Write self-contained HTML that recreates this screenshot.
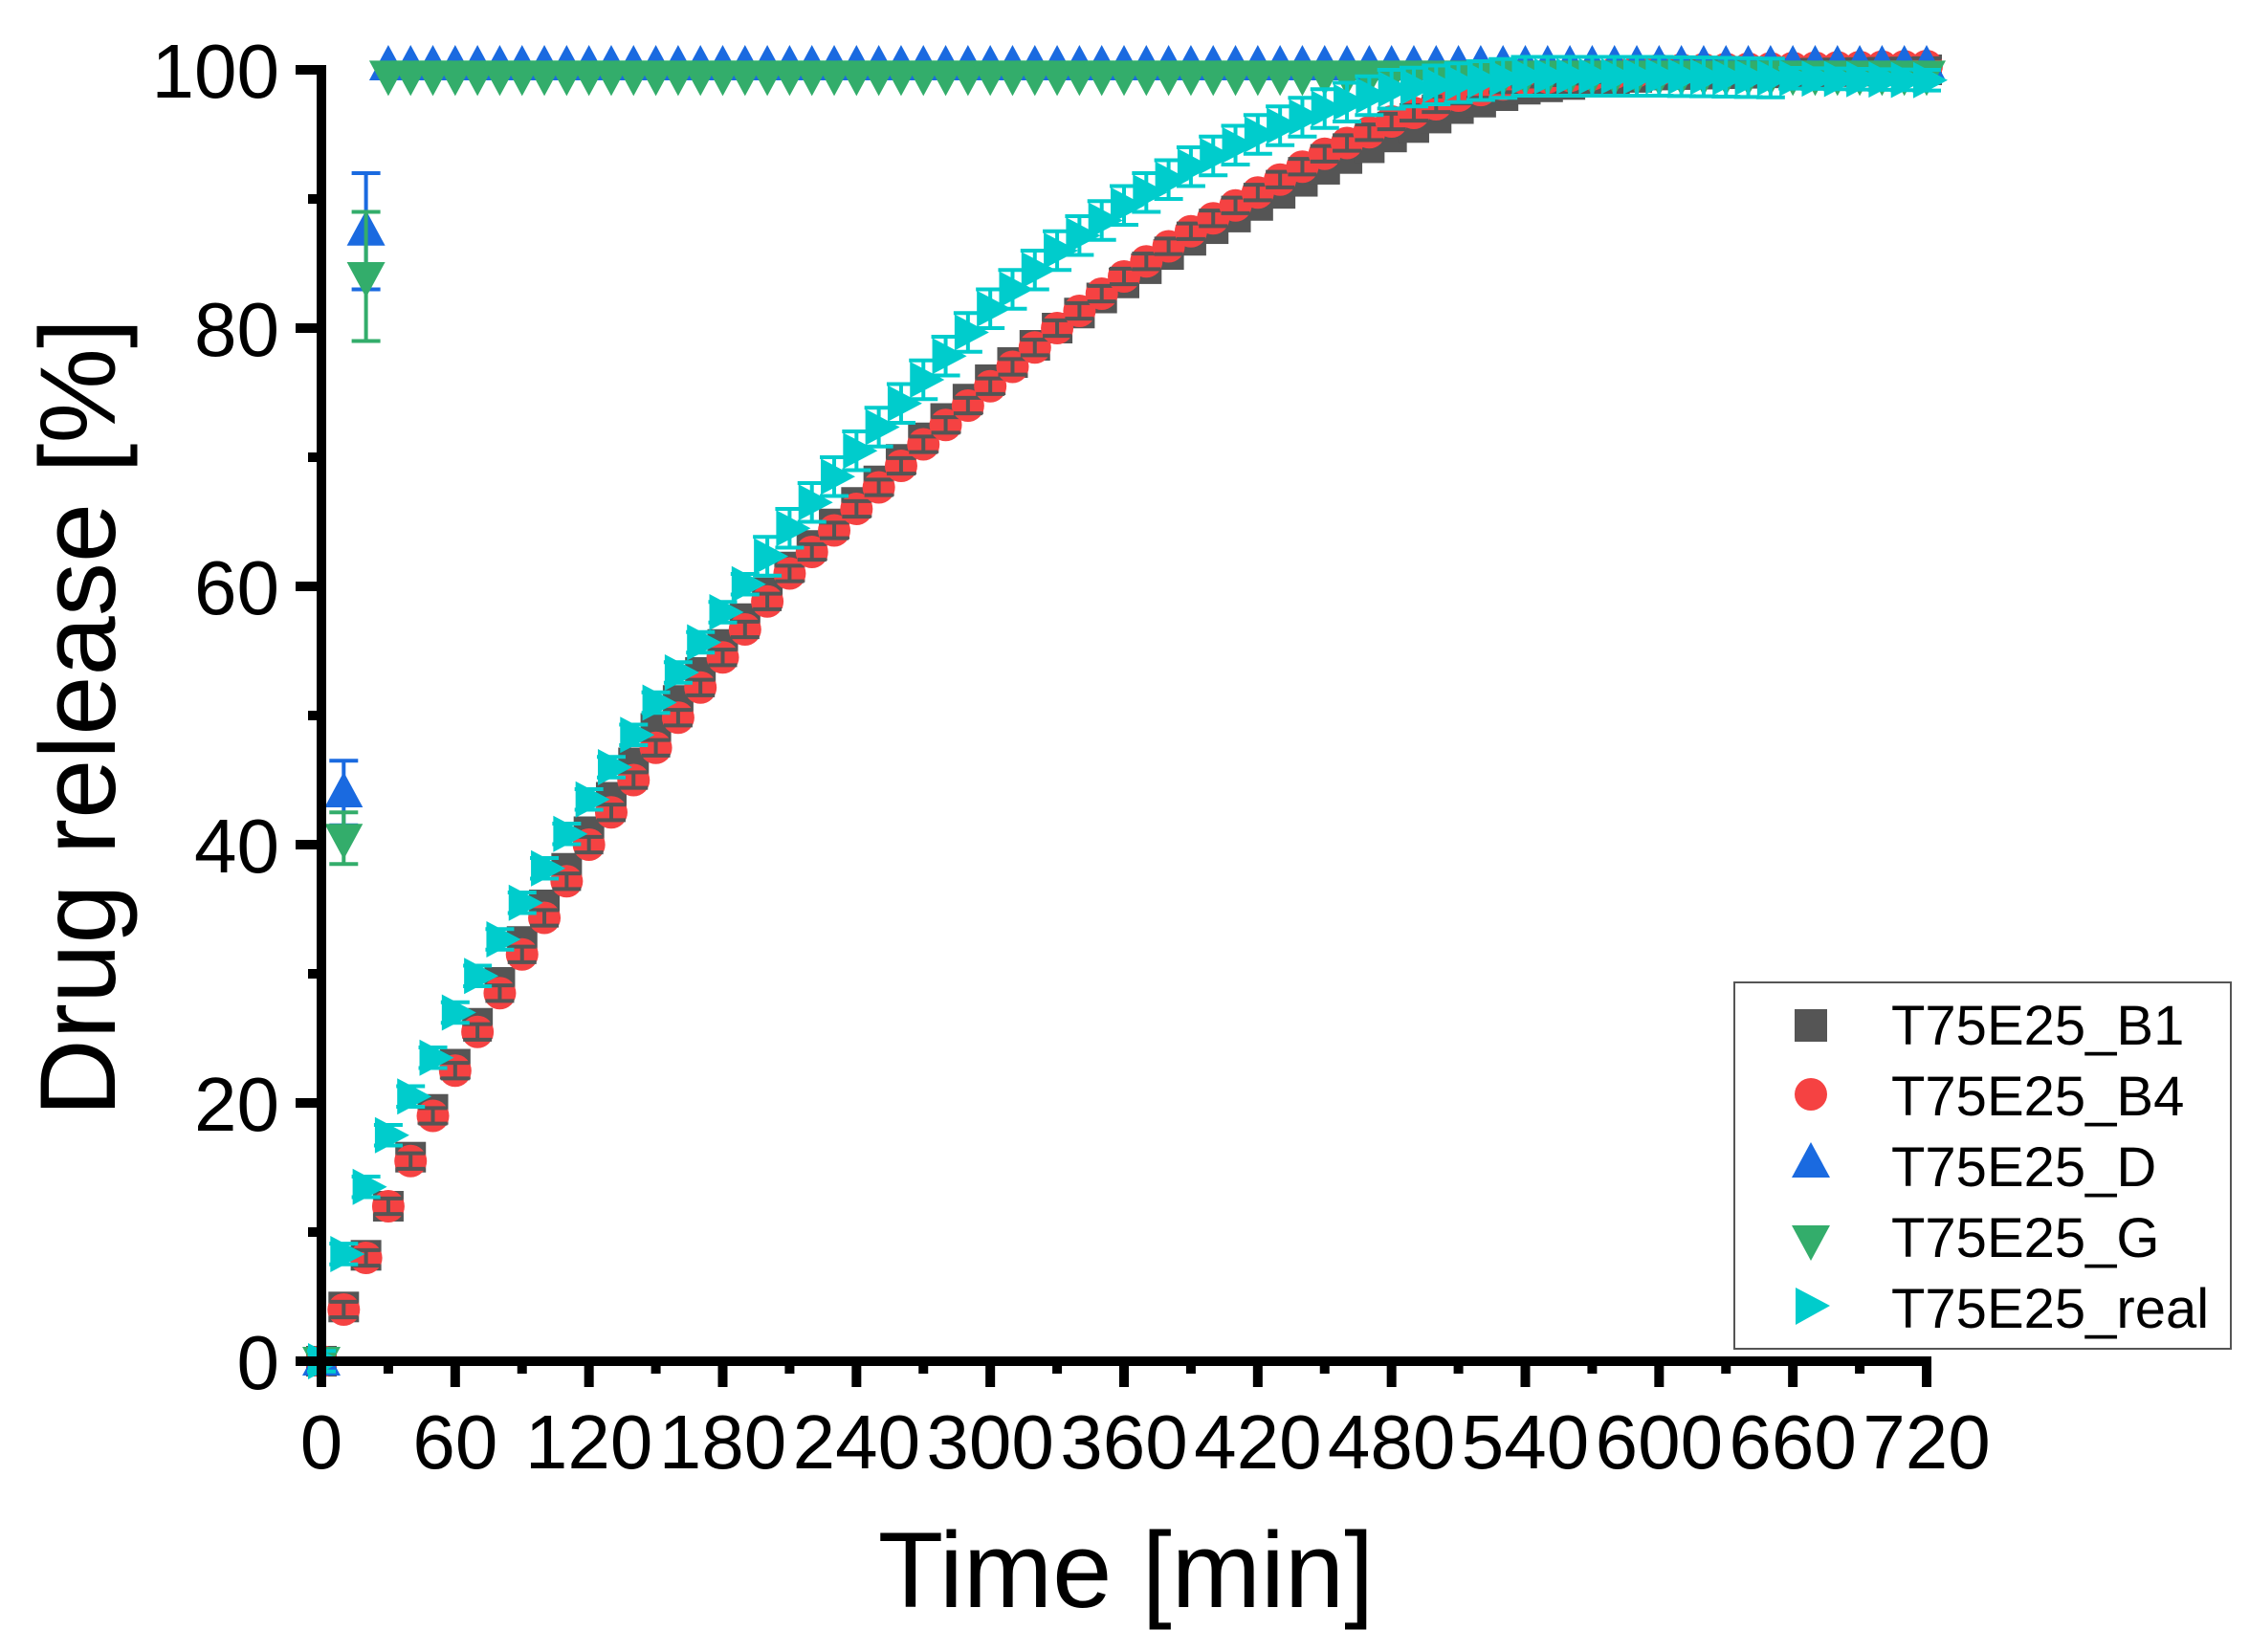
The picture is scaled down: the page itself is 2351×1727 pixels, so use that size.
<!DOCTYPE html>
<html><head><meta charset="utf-8"><style>
html,body{margin:0;padding:0;background:#fff;}
svg{display:block;font-family:"Liberation Sans",Arial,sans-serif;}
</style></head><body>
<svg id="s" width="2351" height="1727" viewBox="0 0 2351 1727" xmlns="http://www.w3.org/2000/svg">
<rect width="2351" height="1727" fill="#fff"/>
<g id="data"></g>
<g id="axes" stroke="#000" stroke-width="10" fill="none"></g>
<g id="lab" font-size="80" fill="#000"></g>
<text x="1177" y="1680" font-size="112" text-anchor="middle" fill="#000">Time [min]</text>
<text transform="translate(120,750) rotate(-90)" font-size="112" text-anchor="middle" fill="#000">Drug release [%]</text>
<g id="leg">
<rect x="1813" y="1027" width="519" height="383" fill="#fff" stroke="#555" stroke-width="2"/>
<rect x="1876" y="1055" width="34" height="34" fill="#555"/>
<circle cx="1893" cy="1144" r="17" fill="#f54242"/>
<polygon points="1873,1231 1913,1231 1893,1194" fill="#1a6ae0"/>
<polygon points="1873,1281 1913,1281 1893,1318" fill="#33ad6b"/>
<polygon points="1877,1346 1913,1365 1877,1385" fill="#00cccc"/>
<g font-size="58" fill="#000">
<text x="1977" y="1092">T75E25_B1</text>
<text x="1977" y="1166">T75E25_B4</text>
<text x="1977" y="1240">T75E25_D</text>
<text x="1977" y="1314">T75E25_G</text>
<text x="1977" y="1388">T75E25_real</text>
</g></g>
</svg>
<script>
const X0=336,X1=2014,Y0=1423,Y1=73;
const sx=t=>X0+(X1-X0)*t/720, sy=v=>Y0+(Y1-Y0)*v/100;
function interp(pts,t){for(let i=0;i<pts.length-1;i++){if(t>=pts[i][0]&&t<=pts[i+1][0]){const a=pts[i],b=pts[i+1];return a[1]+(b[1]-a[1])*(t-a[0])/(b[0]-a[0]);}}return pts[pts.length-1][1];}
const B4=[[0,0],[10,4],[20,8],[30,12],[40,15.5],[50,19],[60,22.5],[90,31.5],[120,40],[150,47.5],[180,54.5],[210,61],[240,66],[270,71],[300,75.5],[330,80],[360,84],[390,87.5],[420,90.5],[450,93.5],[480,96],[510,98],[540,99.3],[600,100],[720,100.3]];
const B1=[[0,0],[10,4.2],[20,8.2],[30,12],[40,15.8],[50,19.5],[60,23],[90,32.5],[120,41],[150,49],[180,55.5],[210,61.5],[240,66.5],[270,71.5],[300,76],[330,80],[360,83.5],[390,86.8],[420,89.5],[450,92.3],[480,94.8],[510,97],[540,98.5],[600,99.6],[720,100]];
const RE=[[0,0],[10,8.3],[20,13.5],[30,17.5],[40,20.5],[50,23.5],[60,27],[90,35.5],[120,43.5],[150,51],[180,58],[210,64.5],[240,70.5],[270,76],[300,81.5],[330,86],[360,89.5],[390,92.5],[420,95],[450,97],[480,98.5],[510,99],[540,99.5],[600,99.5],[720,99.2]];
let h='';
function eb(x,y,e,c,w){const a=sy(-e+0),b=0;const yt=y-(Y0-Y1)*e/100,yb=y+(Y0-Y1)*e/100;return `<g stroke="${c}" stroke-width="${w||4}"><line x1="${x}" y1="${yt}" x2="${x}" y2="${yb}"/><line x1="${x-15}" y1="${yt}" x2="${x+15}" y2="${yt}"/><line x1="${x-15}" y1="${yb}" x2="${x+15}" y2="${yb}"/></g>`;}
// B1 squares
for(let t=0;t<=720;t+=10){const x=sx(t),y=sy(interp(B1,t));h+=eb(x,y,0.8,'#444',4);h+=`<rect x="${x-16}" y="${y-16}" width="32" height="32" fill="#555"/>`;}
for(let t=0;t<=720;t+=10){const x=sx(t),y=sy(interp(B4,t));h+=`<circle cx="${x}" cy="${y}" r="17" fill="#f54242"/>`;h+=eb(x,y,0.6,'#555',4);}
// D
const D=t=>t==0?0:t==10?44:t==20?87.5:100.3;
const DE={10:2.5,20:4.5};
for(let t=0;t<=720;t+=10){const x=sx(t),y=sy(D(t));if(DE[t])h+=eb(x,y,DE[t],'#1a6ae0',4);h+=`<polygon points="${x-20},${y+15} ${x+20},${y+15} ${x},${y-22}" fill="#1a6ae0"/>`;}
const G=t=>t==0?0:t==10?40.5:t==20?84:99.6;
const GE={10:2,20:5};
for(let t=0;t<=720;t+=10){const x=sx(t),y=sy(G(t));if(GE[t])h+=eb(x,y,GE[t],'#33ad6b',4);h+=`<polygon points="${x-20},${y-15} ${x+20},${y-15} ${x},${y+22}" fill="#33ad6b"/>`;}
for(let t=0;t<=720;t+=10){const x=sx(t),y=sy(interp(RE,t));const e=t>=200&&t<=650?1.5:0.8;h+=eb(x,y,e,'#00cccc',4);h+=`<polygon points="${x-14},${y-19} ${x+22},${y} ${x-14},${y+19}" fill="#00cccc"/>`;}
document.getElementById('data').innerHTML=h;
let a=`<line x1="${X0}" y1="${Y1-5}" x2="${X0}" y2="${Y0+5}"/><line x1="${X0-5}" y1="${Y0}" x2="${X1+5}" y2="${Y0}"/>`;
for(let v=0;v<=100;v+=10){const y=sy(v);a+=`<line x1="${X0}" y1="${y}" x2="${X0-(v%20==0?27:14)}" y2="${y}"/>`;}
for(let t=0;t<=720;t+=30){const x=sx(t);a+=`<line x1="${x}" y1="${Y0}" x2="${x}" y2="${Y0+(t%60==0?27:13)}"/>`;}
document.getElementById('axes').innerHTML=a;
let l='';
for(let v=0;v<=100;v+=20){l+=`<text x="292" y="${sy(v)+29}" text-anchor="end">${v}</text>`;}
for(let t=0;t<=720;t+=60){l+=`<text x="${sx(t)}" y="1535" text-anchor="middle">${t}</text>`;}
document.getElementById('lab').innerHTML=l;
</script>
</body></html>
